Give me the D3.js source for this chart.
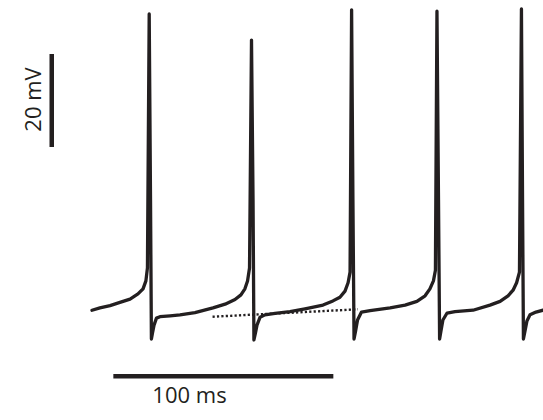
<!DOCTYPE html>
<html>
<head>
<meta charset="utf-8">
<script src="https://cdn.jsdelivr.net/npm/d3@7"></script>
<style>
  body { margin: 0; background: #fff; }
  .trace { fill: none; stroke: #231f20; stroke-width: 3.3; stroke-linejoin: round; stroke-linecap: round; }
  .ref { fill: none; stroke: #231f20; stroke-width: 2.4; stroke-dasharray: 2.2 2.2; }
  .bar { stroke: #231f20; stroke-width: 4.5; }
  .lbl { font-family: "Open Sans", sans-serif; font-size: 22px; fill: #231f20; }
</style>
</head>
<body>
<script>
// Define SVG dimensions
var width = 543,
    height = 420;

// Membrane potential trace (time in ms, voltage in mV)
var traceTime = [
    0, 3.6, 8.2, 12.7, 17.3, 20.9, 23.2, 24.5, 25.2, 26.0, 26.6, 27.0,
    27.5, 28.2, 29.3, 30.9, 35.5, 40.0, 46.8, 55.0, 60.5, 65.0, 67.7, 69.5,
    70.7, 71.6, 72.5, 73.2, 73.6, 74.3, 75.0, 76.4, 78.6, 83.2, 90.0, 96.8,
    105.0, 109.5, 112.7, 115.0, 116.4, 117.3, 118.0, 118.6, 119.1, 119.8, 120.7, 122.5,
    126.4, 135.5, 142.3, 147.7, 151.4, 153.6, 155.2, 156.1, 156.8, 157.5, 158.0, 158.6,
    159.5, 161.4, 165.0, 173.2, 180.9, 185.5, 189.1, 191.4, 193.0, 194.3, 195.2, 195.7,
    196.1, 196.8, 197.7, 199.1, 201.8, 205.0
];
var traceVoltage = [
    -55.1, -54.6, -54.1, -53.4, -52.7, -51.6, -50.5, -48.8, -46.0, 8.6, -31.4, -61.3,
    -60.0, -58.3, -56.8, -56.5, -56.3, -56.1, -55.6, -54.6, -53.8, -52.8, -51.8, -50.5,
    -48.8, -46.0, 3.0, -31.4, -61.5, -60.0, -58.3, -56.6, -56.1, -55.8, -55.4, -54.8,
    -54.0, -53.1, -52.3, -51.0, -49.2, -46.9, 9.5, -31.4, -61.3, -59.6, -57.2, -55.5,
    -55.2, -54.6, -54.0, -53.2, -52.0, -50.5, -48.8, -46.5, 9.2, -31.4, -61.3, -59.6,
    -57.2, -55.7, -55.4, -55.1, -54.0, -53.2, -52.0, -50.8, -49.2, -46.9, 9.7, -31.4,
    -61.3, -59.6, -57.4, -56.1, -55.5, -55.1
];

// Dotted reference line (ms, mV)
var refTime = [54.8, 120.9];
var refVoltage = [-56.5, -54.9];

// Scale bars
var barTime = [9.7, 109.7];      // 100 ms
var barVoltage = [0, -20];       // 20 mV
var barLabels = ["100 ms", "20 mV"];

// Scales: 2.2 px per ms, 4.65 px per mV
var x = d3.scaleLinear().domain([0, 100]).range([92, 312]);
var y = d3.scaleLinear().domain([-20, 0]).range([147, 54]);

var svg = d3.select("body")
    .append("svg")
    .attr("width", width)
    .attr("height", height);

var line = d3.line()
    .x(function(d) { return x(d[0]); })
    .y(function(d) { return y(d[1]); });

// Dotted baseline reference
svg.append("path")
    .datum(d3.zip(refTime, refVoltage))
    .attr("class", "ref")
    .attr("d", line);

// Trace
svg.append("path")
    .datum(d3.zip(traceTime, traceVoltage))
    .attr("class", "trace")
    .attr("d", line);

// Horizontal scale bar (time)
var hBarY = y(-69.3);
svg.append("line")
    .attr("class", "bar")
    .attr("x1", x(barTime[0]))
    .attr("x2", x(barTime[1]))
    .attr("y1", hBarY)
    .attr("y2", hBarY);

svg.append("text")
    .attr("class", "lbl")
    .attr("x", x(barTime[0]) + 39)
    .attr("y", hBarY + 27)
    .text(barLabels[0]);

// Vertical scale bar (voltage)
var vBarX = x(-18.3);
svg.append("line")
    .attr("class", "bar")
    .attr("x1", vBarX)
    .attr("x2", vBarX)
    .attr("y1", y(barVoltage[0]))
    .attr("y2", y(barVoltage[1]));

var vMid = (y(barVoltage[0]) + y(barVoltage[1])) / 2;
svg.append("text")
    .attr("class", "lbl")
    .attr("text-anchor", "middle")
    .attr("transform", "translate(" + (vBarX - 11) + "," + (vMid - 1) + ") rotate(-90)")
    .text(barLabels[1]);
</script>
</body>
</html>
